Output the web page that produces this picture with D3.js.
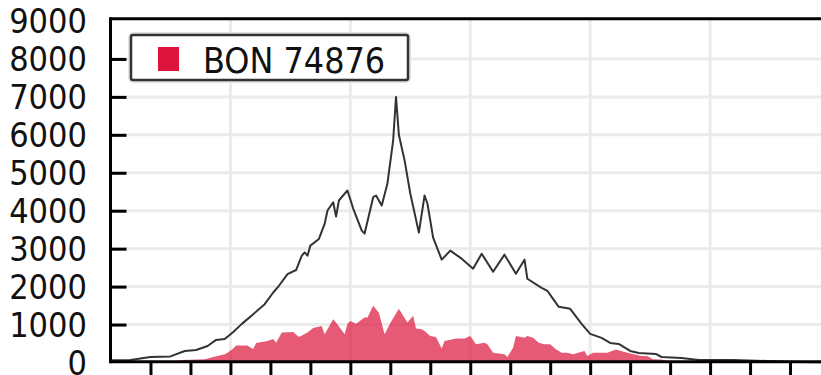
<!DOCTYPE html>
<html>
<head>
<meta charset="utf-8">
<script src="https://cdn.jsdelivr.net/npm/d3@7"></script>
<style>
  html, body { margin: 0; padding: 0; background: #fff; overflow: hidden; }
  svg { display: block; }
  text { font-family: "DejaVu Sans", sans-serif; fill: #111; }
</style>
</head>
<body>
<svg id="chart" width="821" height="375"></svg>
<script>
// Total daily counts (grey line): day index and value
const totalDays = [0, 7, 14, 21, 26, 30, 34, 37, 40, 43, 46, 50, 54, 57, 59, 62, 65, 67, 68, 69,
  70, 73, 75, 76, 78, 79, 80, 83, 85, 88, 89, 92, 93, 95, 97, 99, 100, 101, 103, 105,
  108, 110, 111, 113, 116, 119, 123, 127, 130, 134, 138, 142, 145, 146, 151, 153, 155, 157, 161, 165,
  168, 172, 175, 178, 182, 185, 191, 193, 200, 206, 218, 230, 241, 252];
const totalCounts = [60, 66, 145, 160, 304, 330, 436, 595, 620, 806, 1018, 1274, 1538, 1845, 2022, 2331, 2437, 2815, 2902, 2815,
  3080, 3257, 3653, 4005, 4224, 3846, 4269, 4534, 4058, 3476, 3397, 4356, 4401, 4137, 4719, 5855, 7000, 6000, 5327, 4454,
  3423, 4401, 4190, 3291, 2710, 2947, 2736, 2472, 2868, 2392, 2842, 2339, 2710, 2207, 1969, 1890, 1678, 1467, 1414, 1018,
  753, 648, 515, 489, 304, 251, 225, 145, 119, 66, 66, 40, 10, 5];

// BON 74876 counts (red area): day index and value
const bonDays = [0, 21, 25, 33, 36, 40, 41, 43, 44, 48, 49, 50, 51, 55, 57, 58, 60, 64, 66, 69,
  71, 74, 75, 78, 79, 82, 83, 84, 86, 89, 90, 92, 94, 96, 98, 101, 103, 104, 106, 107,
  109, 110, 112, 114, 116, 117, 121, 124, 126, 128, 131, 132, 134, 138, 139, 141, 142, 145, 146, 148,
  150, 152, 154, 156, 158, 160, 162, 166, 167, 169, 172, 174, 177, 181, 186, 188, 190, 193, 195, 200];
const bonCounts = [0, 13, 66, 85, 145, 217, 259, 370, 449, 449, 397, 357, 515, 568, 621, 523, 788, 806, 674, 788,
  912, 965, 745, 1142, 1052, 745, 1018, 1097, 1018, 1184, 1184, 1494, 1308, 745, 1044, 1414, 1176, 1052, 1229, 899,
  878, 833, 700, 674, 370, 568, 634, 634, 700, 481, 523, 481, 259, 217, 145, 391, 700, 655, 700, 655,
  523, 481, 481, 349, 259, 259, 217, 304, 172, 259, 259, 259, 344, 259, 172, 172, 85, 79, 40, 0];

const seriesName = "BON 74876";
const yTicks = [0, 1000, 2000, 3000, 4000, 5000, 6000, 7000, 8000, 9000];
const xTickStep = 14;
const xGridStep = 42;

const svg = d3.select("#chart");
const plotLeft = 110.5, plotRight = 830, plotTop = 18.7, plotBottom = 361.7;

const x = d3.scaleLinear().domain([0, 252]).range([plotLeft, plotRight]);
const y = d3.scaleLinear().domain([0, 9000]).range([362.5, 21]);

const total = totalDays.map((d, i) => ({ d, v: totalCounts[i] }));
const bon = bonDays.map((d, i) => ({ d, v: bonCounts[i] }));

// grid
const grid = svg.append("g").attr("stroke", "#ebebeb").attr("stroke-width", 3);
grid.selectAll("line.h").data(yTicks.filter(t => t > 0 && t < 9000)).join("line").attr("class", "h")
  .attr("x1", plotLeft).attr("x2", 821).attr("y1", d => y(d)).attr("y2", d => y(d));
grid.selectAll("line.v").data(d3.range(xGridStep, 252, xGridStep)).join("line").attr("class", "v")
  .attr("x1", d => x(d)).attr("x2", d => x(d)).attr("y1", plotTop).attr("y2", plotBottom);

// red area
svg.append("path").datum(bon)
  .attr("fill", "crimson").attr("fill-opacity", 0.7)
  .attr("d", d3.area().x(p => x(p.d)).y0(y(0)).y1(p => y(p.v)));

// total line
svg.append("path").datum(total)
  .attr("fill", "none").attr("stroke", "#333").attr("stroke-width", 2)
  .attr("stroke-linejoin", "round")
  .attr("d", d3.line().x(p => x(p.d)).y(p => y(p.v)));

// y axis with inward ticks
const yAxis = svg.append("g").attr("transform", `translate(${plotLeft},0)`)
  .call(d3.axisRight(y).tickValues(yTicks.filter(t => t > 0 && t < 9000)).tickSize(16).tickFormat(""));
yAxis.select(".domain").remove();
yAxis.selectAll(".tick line").attr("stroke", "#000").attr("stroke-width", 3);

// y tick labels (slightly narrowed glyphs)
svg.append("g").selectAll("text").data(yTicks).join("text")
  .attr("transform", d => `translate(87,${y(d)}) scale(0.9,1)`)
  .attr("text-anchor", "end").attr("dy", "0.36em")
  .style("font-size", "34px")
  .text(d => d);

// x axis with outward ticks
const xAxis = svg.append("g").attr("transform", `translate(0,${plotBottom})`)
  .call(d3.axisBottom(x).tickValues(d3.range(xTickStep, 252, xTickStep)).tickSize(14).tickFormat(""));
xAxis.select(".domain").remove();
xAxis.selectAll(".tick line").attr("stroke", "#000").attr("stroke-width", 3);

// frame lines
svg.append("line").attr("x1", plotLeft).attr("x2", 821).attr("y1", plotBottom).attr("y2", plotBottom)
  .attr("stroke", "#000").attr("stroke-width", 3);
svg.append("line").attr("x1", plotLeft).attr("x2", 821).attr("y1", plotTop).attr("y2", plotTop)
  .attr("stroke", "#000").attr("stroke-width", 3);
svg.append("line").attr("x1", plotLeft).attr("x2", plotLeft).attr("y1", plotTop - 1.5).attr("y2", plotBottom + 1.5)
  .attr("stroke", "#000").attr("stroke-width", 3);

// legend
const lg = svg.append("g");
lg.append("rect").attr("x", 131).attr("y", 35).attr("width", 277).attr("height", 45).attr("rx", 2)
  .attr("fill", "#fff").attr("stroke", "#e2e2e2").attr("stroke-width", 6);
lg.append("rect").attr("x", 131).attr("y", 35).attr("width", 277).attr("height", 45).attr("rx", 2)
  .attr("fill", "#fff").attr("stroke", "#333").attr("stroke-width", 2.5);
lg.append("rect").attr("x", 158).attr("y", 47).attr("width", 21).attr("height", 24).attr("fill", "crimson");
lg.append("text").attr("transform", "translate(203,73) scale(0.9,1)")
  .style("font-size", "35.5px").text(seriesName);
</script>
</body>
</html>
